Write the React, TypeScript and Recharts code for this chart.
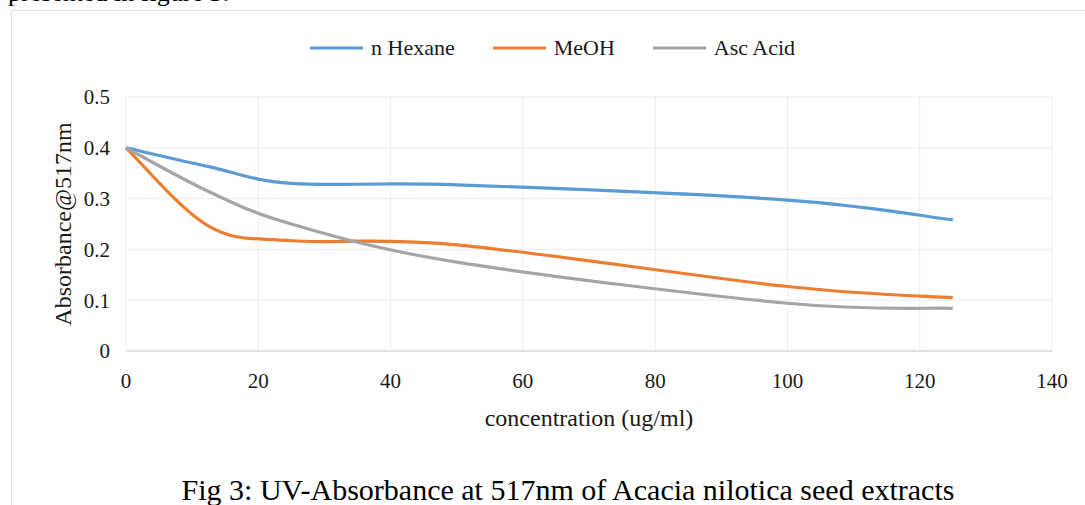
import React from 'react';
import { LineChart, Line, XAxis, YAxis, CartesianGrid, Legend } from 'recharts';

const concentrations = [0, 12.5, 25, 50, 100, 125];
const hexane = [0.4, 0.363, 0.33, 0.327, 0.297, 0.258];
const meoh = [0.4, 0.246, 0.217, 0.209, 0.127, 0.105];
const ascAcid = [0.4, 0.314, 0.25, 0.175, 0.094, 0.084];
const seriesNames = ['n Hexane', 'MeOH', 'Asc Acid'];
const xTicks = [0, 20, 40, 60, 80, 100, 120, 140];
const yTicks = [0, 0.1, 0.2, 0.3, 0.4, 0.5];

const data = concentrations.map((c, i) => ({
  conc: c,
  hexane: hexane[i],
  meoh: meoh[i],
  asc: ascAcid[i],
}));

const serif = '"Liberation Serif", "Times New Roman", serif';

// Spreadsheet-style smoothed line (uniform Catmull-Rom as cubic Bezier)
const smoothCurve = (context: any) => {
  let pts: number[][] = [];
  return {
    areaStart() {},
    areaEnd() {},
    lineStart() {
      pts = [];
    },
    point(x: number, y: number) {
      pts.push([+x, +y]);
    },
    lineEnd() {
      const n = pts.length;
      if (!n) return;
      context.moveTo(pts[0][0], pts[0][1]);
      for (let i = 0; i < n - 1; i++) {
        const p0 = pts[i - 1] || pts[i];
        const p1 = pts[i];
        const p2 = pts[i + 1];
        const p3 = pts[i + 2] || pts[i + 1];
        context.bezierCurveTo(
          p1[0] + (p2[0] - p0[0]) / 6,
          p1[1] + (p2[1] - p0[1]) / 6,
          p2[0] - (p3[0] - p1[0]) / 6,
          p2[1] - (p3[1] - p1[1]) / 6,
          p2[0],
          p2[1]
        );
      }
    },
  };
};

const renderLegend = (props: any) => {
  const payload = [...(props.payload || [])].sort(
    (a: any, b: any) => seriesNames.indexOf(a.value) - seriesNames.indexOf(b.value)
  );
  return (
    <div style={{ display: 'flex', alignItems: 'center', fontFamily: serif, fontSize: 22, color: '#1a1a1a' }}>
      {payload.map((entry: any, i: number) => (
        <div key={i} style={{ display: 'flex', alignItems: 'center', marginRight: 38 }}>
          <svg width={53} height={6} style={{ marginRight: 8 }}>
            <line x1={0} y1={3} x2={53} y2={3} stroke={entry.color} strokeWidth={3} strokeLinecap="round" />
          </svg>
          <span>{entry.value}</span>
        </div>
      ))}
    </div>
  );
};

export default function App() {
  return (
    <div style={{ position: 'absolute', left: 0, top: 0, width: 1085, height: 505, background: '#fff', overflow: 'hidden' }}>
      <div style={{ position: 'absolute', left: 8, top: -20, fontFamily: serif, fontSize: 26, lineHeight: '26px', color: '#000', whiteSpace: 'nowrap' }}>
        presented in figure 3.
      </div>
      <div style={{ position: 'absolute', left: 11, top: 10, width: 1200, height: 600, border: '1px solid #e4e4e4' }} />
      <div style={{ position: 'absolute', left: 0, top: 0 }}>
        <LineChart width={1085} height={505} data={data} margin={{ top: 97, right: 33, bottom: 74, left: 46 }}>
          <CartesianGrid stroke="#ededed" strokeWidth={1} />
          <XAxis
            dataKey="conc"
            type="number"
            domain={[0, 140]}
            ticks={xTicks}
            height={80}
            tickLine={false}
            tickSize={6}
            tickMargin={16}
            axisLine={{ stroke: '#d9d9d9', strokeWidth: 1.5 }}
            tick={{ fontFamily: serif, fontSize: 21, fill: '#1a1a1a' }}
            label={{ value: 'concentration (ug/ml)', position: 'insideBottom', offset: 5, style: { fontFamily: serif, fontSize: 24, fill: '#1a1a1a' } }}
          />
          <YAxis
            type="number"
            domain={[0, 0.5]}
            ticks={yTicks}
            width={80}
            tickLine={false}
            axisLine={false}
            tickSize={6}
            tickMargin={10}
            tickFormatter={(v: number) => (v === 0 ? '0' : v.toFixed(1))}
            tick={{ fontFamily: serif, fontSize: 21, fill: '#1a1a1a' }}
            label={{ value: 'Absorbance@517nm', angle: -90, position: 'insideLeft', offset: 16, style: { textAnchor: 'middle', fontFamily: serif, fontSize: 24, fill: '#1a1a1a' } }}
          />
          <Legend
            content={renderLegend}
            layout="horizontal"
            verticalAlign="middle"
            align="center"
            wrapperStyle={{ position: 'absolute', left: 310, top: 35, width: 'auto' }}
          />
          <Line name="n Hexane" dataKey="hexane" type={smoothCurve as any} stroke="#5B9BD5" strokeWidth={3.2} dot={false} isAnimationActive={false} />
          <Line name="MeOH" dataKey="meoh" type={smoothCurve as any} stroke="#ED7D31" strokeWidth={3.2} dot={false} isAnimationActive={false} />
          <Line name="Asc Acid" dataKey="asc" type={smoothCurve as any} stroke="#A5A5A5" strokeWidth={3.2} dot={false} isAnimationActive={false} />
        </LineChart>
      </div>
      <div style={{ position: 'absolute', left: 0, width: 1136, top: 472, textAlign: 'center', fontFamily: serif, fontSize: 30, lineHeight: '36px', color: '#000', whiteSpace: 'nowrap' }}>
        Fig 3: UV-Absorbance at 517nm of Acacia nilotica seed extracts
      </div>
    </div>
  );
}
